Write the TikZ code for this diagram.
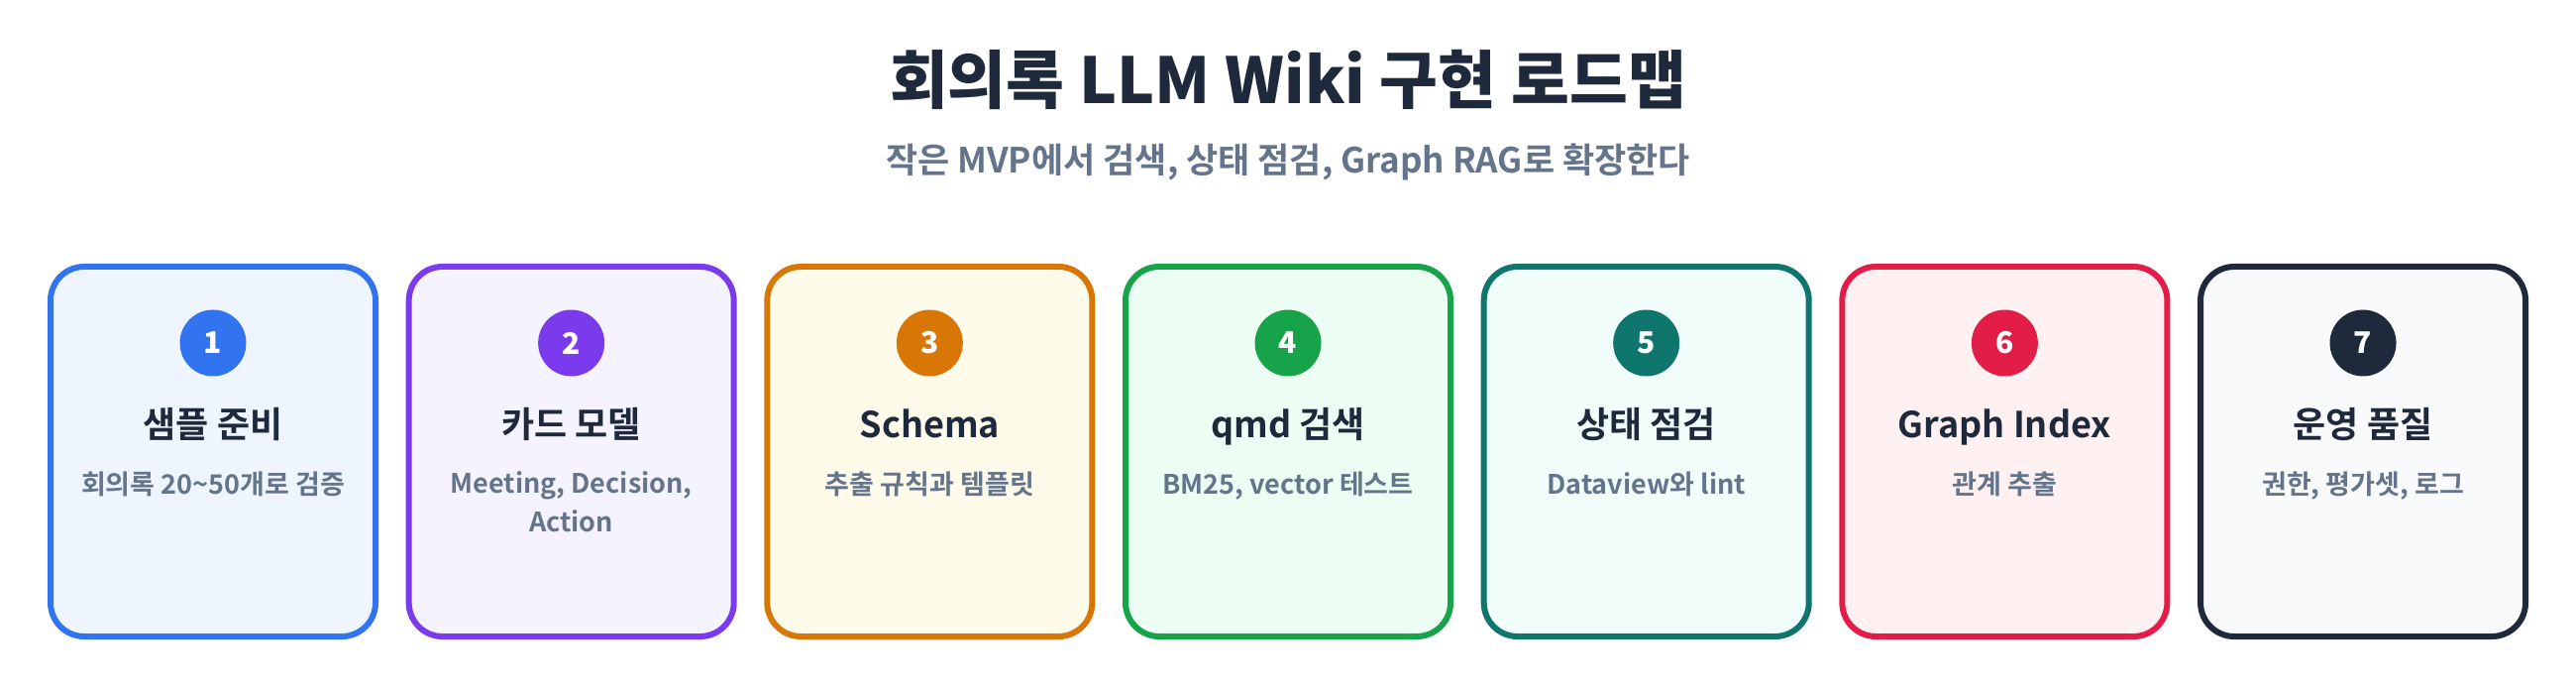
\documentclass[tikz,border=0pt]{standalone}
\usepackage{fontspec}
\setmainfont{Noto Sans CJK KR}[BoldFont={Noto Sans CJK KR Bold}]
\newfontfamily\heavyfont{Noto Sans CJK KR Black}
\usetikzlibrary{positioning}
\definecolor{ink}{HTML}{1E293B}
\definecolor{muted}{HTML}{64748B}
\definecolor{c1}{HTML}{3273F0}\definecolor{f1}{HTML}{EFF5FF}
\definecolor{c2}{HTML}{7C3AED}\definecolor{f2}{HTML}{F5F3FF}
\definecolor{c3}{HTML}{D97706}\definecolor{f3}{HTML}{FFFBEB}
\definecolor{c4}{HTML}{16A34A}\definecolor{f4}{HTML}{ECFDF3}
\definecolor{c5}{HTML}{0F766E}\definecolor{f5}{HTML}{F0FDFA}
\definecolor{c6}{HTML}{E11D48}\definecolor{f6}{HTML}{FFF1F2}
\definecolor{c7}{HTML}{1E293B}\definecolor{f7}{HTML}{F8FAFC}
\begin{document}
\begin{tikzpicture}[x=0.5pt,y=-0.5pt,
    card/.style={draw, line width=3pt, rounded corners=17pt, minimum width=164pt, minimum height=186.5pt, inner sep=0pt},
    badge/.style={circle, inner sep=0pt, minimum size=33.5pt, text=white, font=\heavyfont\fontsize{15}{17}\selectfont},
    cardtitle/.style={anchor=base, text=ink, font=\bfseries\fontsize{18}{22}\selectfont},
    carddesc/.style={anchor=north, inner sep=0pt, align=center, text=muted, font=\bfseries\fontsize{13.5}{19.5}\selectfont}]
    \useasboundingbox [fill=white] (0,0) rectangle (2600,694);
    \node [anchor=base, text=ink, font=\heavyfont\fontsize{32}{38}\selectfont] (title) at (1300,105) {회의록 LLM Wiki 구현 로드맵};
    \node [anchor=base, text=muted, font=\bfseries\fontsize{17.5}{20}\selectfont] (subtitle) at (1300,175) {작은 MVP에서 검색, 상태 점검, Graph RAG로 확장한다};
    \foreach \i/\ttl/\dsc in {1/{샘플 준비}/{회의록 20\textasciitilde50개로 검증},
            2/{카드 모델}/{Meeting, Decision,\\Action},
            3/{Schema}/{추출 규칙과 템플릿},
            4/{qmd 검색}/{BM25, vector 테스트},
            5/{상태 점검}/{Dataview와 lint},
            6/{Graph Index}/{관계 추출},
            7/{운영 품질}/{권한, 평가셋, 로그}} {
        \pgfmathsetmacro\cx{215+361.67*(\i-1)}
        \node [card, draw=c\i, fill=f\i] (card\i) at (\cx,455.5) {};
        \node [badge, fill=c\i] (badge\i) at (\cx,346) {\i};
        \node [cardtitle] (ttl\i) at (\cx,441.5) {\ttl};
        \node [carddesc] (dsc\i) at (\cx,475) {\dsc};
    }
\end{tikzpicture}
\end{document}
